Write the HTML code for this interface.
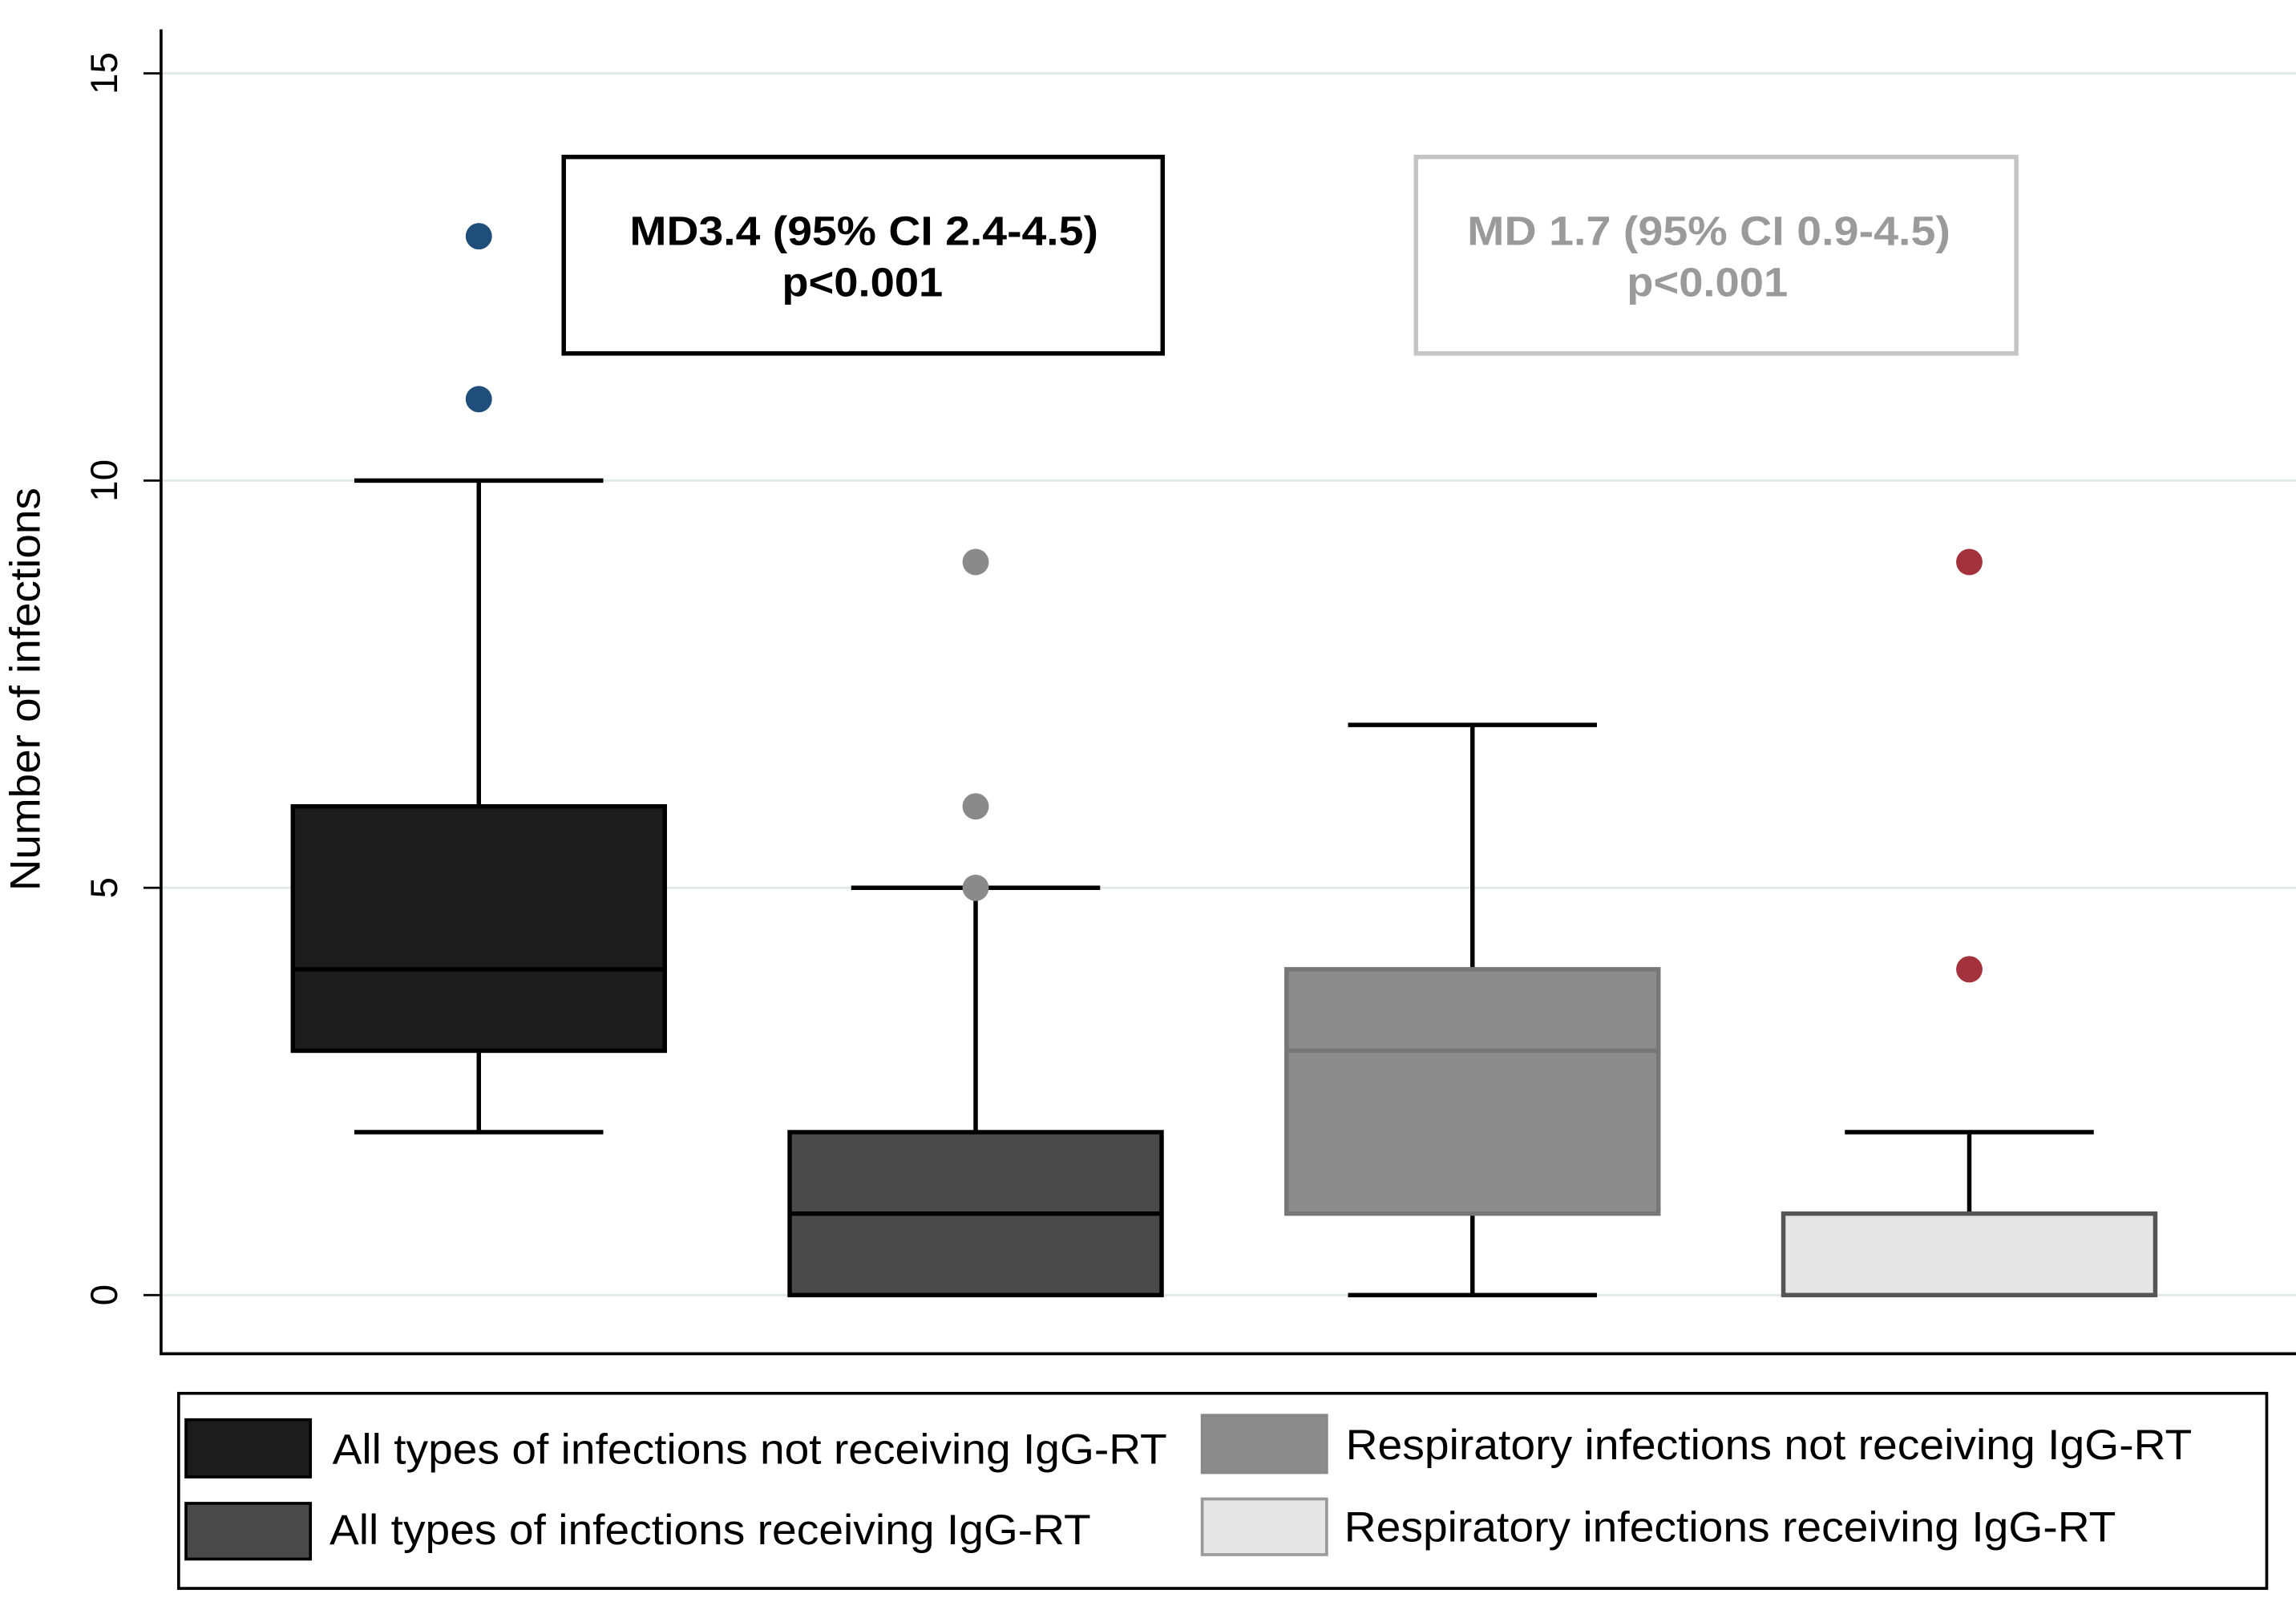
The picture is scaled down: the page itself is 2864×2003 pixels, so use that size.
<!DOCTYPE html>
<html><head><meta charset="utf-8"><style>
html,body{margin:0;padding:0;background:#fff;}
svg{display:block;font-family:"Liberation Sans",Arial,sans-serif;}
</style></head><body>
<svg id="chart" width="2864" height="2003" viewBox="0 0 1568 1095" preserveAspectRatio="none" xmlns="http://www.w3.org/2000/svg">
<g id="grid"></g>
<g id="axes"></g>
<g id="boxes"></g>
<g>
<rect x="385" y="107" width="409" height="134" fill="#fff" stroke="#000" stroke-width="3"/>
<text x="430" y="167" textLength="320" lengthAdjust="spacingAndGlyphs" font-size="28" font-weight="bold" fill="#000">MD3.4 (95% CI 2.4-4.5)</text>
<text x="534" y="202" textLength="110" lengthAdjust="spacingAndGlyphs" font-size="28" font-weight="bold" fill="#000">p&lt;0.001</text>
</g>
<g>
<rect x="967" y="107" width="410" height="134" fill="#fff" stroke="#c4c4c4" stroke-width="3"/>
<text x="1002" y="167" textLength="330" lengthAdjust="spacingAndGlyphs" font-size="28" font-weight="bold" fill="#9a9a9a">MD 1.7 (95% CI 0.9-4.5)</text>
<text x="1111" y="202" textLength="110" lengthAdjust="spacingAndGlyphs" font-size="28" font-weight="bold" fill="#9a9a9a">p&lt;0.001</text>
</g>
<g>
<rect x="122" y="950" width="1426" height="133" fill="#fff" stroke="#000" stroke-width="2"/>
<g><rect x="127" y="968" width="85" height="39" fill="#1c1c1c" stroke="#000" stroke-width="2"/><text x="227" y="998" font-size="29" textLength="570" lengthAdjust="spacingAndGlyphs">All types of infections not receiving IgG-RT</text></g>
<g><rect x="127" y="1025" width="85" height="38" fill="#4a4a4a" stroke="#000" stroke-width="2"/><text x="225" y="1053" font-size="29" textLength="520" lengthAdjust="spacingAndGlyphs">All types of infections receiving IgG-RT</text></g>
<g><rect x="821" y="965" width="85" height="39" fill="#8c8c8c" stroke="#888" stroke-width="2"/><text x="919" y="995" font-size="29" textLength="578" lengthAdjust="spacingAndGlyphs">Respiratory infections not receiving IgG-RT</text></g>
<g><rect x="821" y="1022" width="85" height="38" fill="#e6e6e6" stroke="#999" stroke-width="2"/><text x="918" y="1051" font-size="29" textLength="527" lengthAdjust="spacingAndGlyphs">Respiratory infections receiving IgG-RT</text></g>
</g>
</svg>
<script>
const categories=["All not receiving","All receiving","Resp not receiving","Resp receiving"];
const q1=[3,0,1,0];
const medians=[4,1,3,0];
const q3=[6,2,4,1];
const whiskLow=[2,0,0,0];
const whiskHigh=[10,5,7,2];
const outliers=[[11,13],[5,6,9],[],[4,9]];
const yTicks=[0,5,10,15];
const fills=["#1c1c1c","#4a4a4a","#8c8c8c","#e6e6e6"];
const strokes=["#000","#000","#777","#555"];
const medStroke=["#000","#000","#777","#555"];
const outColors=["#1f4e7a","#8a8a8a","#8a8a8a","#a3323c"];
const NS="http://www.w3.org/2000/svg";
function y(v){return 883-v*(883-50)/15;}
function xc(i){return 327+i*339.3;}
function mk(p,tag,attrs){const e=document.createElementNS(NS,tag);for(const k in attrs)e.setAttribute(k,attrs[k]);p.appendChild(e);return e;}
const grid=document.getElementById('grid'),axes=document.getElementById('axes'),boxes=document.getElementById('boxes');
yTicks.forEach(t=>{
 const g=mk(grid,'line',{x1:110,x2:1568,y1:y(t),y2:y(t),stroke:"#dfe8e8","stroke-width":1.5});
 
 
 const tk=mk(axes,'line',{x1:98,x2:110,y1:y(t),y2:y(t),stroke:"#000","stroke-width":1.5});
 
 
 const tl=mk(axes,'text',{x:0,y:0,transform:`translate(80,${y(t)}) rotate(-90)`,"text-anchor":"middle","font-size":26});
 tl.textContent=t;
 
 
});
const ax=mk(axes,'path',{d:"M110 20 L110 923 L1568 923",fill:"none",stroke:"#000","stroke-width":2});


const yt=mk(axes,'text',{transform:"translate(27,470) rotate(-90)","text-anchor":"middle","font-size":29,"textLength":275,"lengthAdjust":"spacingAndGlyphs"});
yt.textContent="Number of infections";


categories.forEach((c,i)=>{
 const cx=xc(i),hw=127,cw=85;
 const g=mk(boxes,'g',{});
 
 
 mk(g,'line',{x1:cx,x2:cx,y1:y(q3[i]),y2:y(whiskHigh[i]),stroke:"#000","stroke-width":3});
 mk(g,'line',{x1:cx-cw,x2:cx+cw,y1:y(whiskHigh[i]),y2:y(whiskHigh[i]),stroke:"#000","stroke-width":3});
 if(whiskLow[i]<q1[i]){
  mk(g,'line',{x1:cx,x2:cx,y1:y(q1[i]),y2:y(whiskLow[i]),stroke:"#000","stroke-width":3});
  mk(g,'line',{x1:cx-cw,x2:cx+cw,y1:y(whiskLow[i]),y2:y(whiskLow[i]),stroke:"#000","stroke-width":3});
 }
 mk(g,'rect',{x:cx-hw,y:y(q3[i]),width:2*hw,height:y(q1[i])-y(q3[i]),fill:fills[i],stroke:strokes[i],"stroke-width":3});
 mk(g,'line',{x1:cx-hw,x2:cx+hw,y1:y(medians[i]),y2:y(medians[i]),stroke:medStroke[i],"stroke-width":3});
 outliers[i].forEach(o=>{
  const d=mk(g,'circle',{cx:cx,cy:y(o),r:9,fill:outColors[i]});
  
  
 });
});
</script>
</body></html>
